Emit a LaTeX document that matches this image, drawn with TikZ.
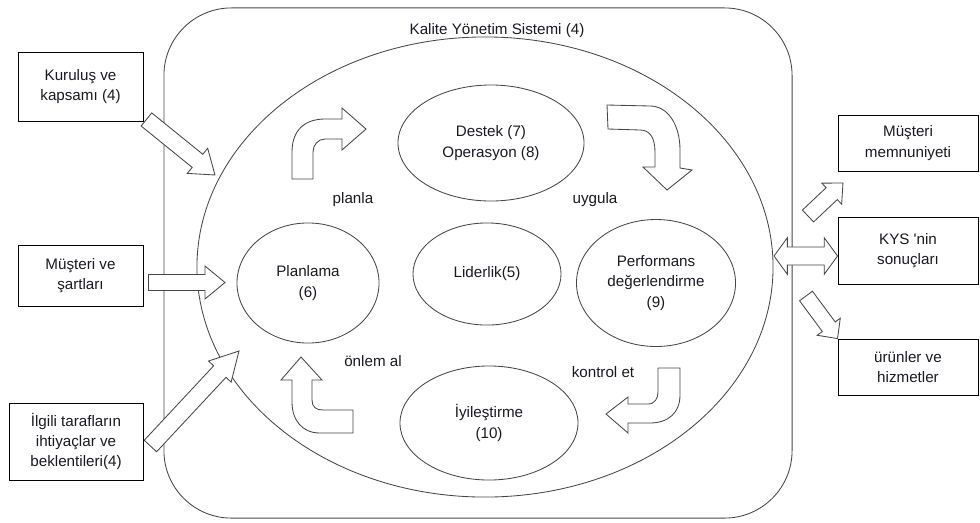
\documentclass[tikz,border=0pt]{standalone}
\usepackage{fontspec}
\setmainfont{Liberation Sans}
\usepackage{tikz}
\usetikzlibrary{calc,positioning,shapes.geometric}
\definecolor{mLine}{RGB}{70,70,70}
\definecolor{mText}{RGB}{25,25,35}

\tikzset{
  oval/.style={draw=mLine, ellipse, line width=0.6pt, inner sep=0pt, align=center},
  box/.style={draw=black, line width=0.6pt, rectangle, align=center, inner sep=2pt},
  blk/.style={draw=mLine, fill=white, line width=0.6pt, line join=miter},
  lbl/.style={text=mText, inner sep=1pt},
}

% block arrow: shaft half width, head half width, head length, tail, tip
\newcommand{\blkarrow}[5]{%
  \path let \p1=(#4), \p2=(#5) in \pgfextra{%
    \pgfmathsetmacro\blkang{atan2(\y2-\y1,\x2-\x1)}%
    \pgfmathsetmacro\blklen{veclen(\x2-\x1,\y2-\y1)}%
    \xdef\blkang{\blkang}\xdef\blklen{\blklen}};
  \draw[blk, shift={(#4)}, rotate=\blkang]
    (0pt,#1) -- (\blklen pt-#3,#1) -- (\blklen pt-#3,#2) -- (\blklen pt,0pt)
    -- (\blklen pt-#3,-#2) -- (\blklen pt-#3,-#1) -- (0pt,-#1) -- cycle;
}
\newcommand{\blkdarrow}[5]{%
  \path let \p1=(#4), \p2=(#5) in \pgfextra{%
    \pgfmathsetmacro\blkang{atan2(\y2-\y1,\x2-\x1)}%
    \pgfmathsetmacro\blklen{veclen(\x2-\x1,\y2-\y1)}%
    \xdef\blkang{\blkang}\xdef\blklen{\blklen}};
  \draw[blk, shift={(#4)}, rotate=\blkang]
    (0pt,0pt) -- (#3,#2) -- (#3,#1) -- (\blklen pt-#3,#1) -- (\blklen pt-#3,#2) -- (\blklen pt,0pt)
    -- (\blklen pt-#3,-#2) -- (\blklen pt-#3,-#1) -- (#3,-#1) -- (#3,-#2) -- cycle;
}

\begin{document}
\begin{tikzpicture}[x=0.025cm, y=-0.025cm, font=\fontsize{10.8}{14.5}\selectfont, text=mText]
  \useasboundingbox (0,0) rectangle (980,522);

  \node[draw=mLine, line width=0.6pt, rounded corners=48pt, minimum width=446.7pt, minimum height=362.8pt] (qms) at (478,263) {};
  \node[lbl] (title) at (497,31) {Kalite Yönetim Sistemi (4)};
  \node[oval, minimum width=409.7pt, minimum height=327.2pt] (pdca) at (485,267) {};

  \node[oval, minimum width=132.3pt, minimum height=82.5pt] (dest) at (491,143) {Destek (7)\\Operasyon (8)};
  \node[oval, minimum width=101pt, minimum height=85.4pt] (plan) at (308,283) {Planlama\\(6)};
  \node[oval, minimum width=105.3pt, minimum height=72.6pt] (lid) at (487,274) {Liderlik(5)};
  \node[oval, minimum width=113.1pt, minimum height=90.3pt] (perf) at (656,283) {Performans\\değerlendirme\\(9)};
  \node[oval, minimum width=126.6pt, minimum height=81.1pt] (iyi) at (489,423) {İyileştirme\\(10)};

  \node[lbl] (planla) at (353,200) {planla};
  \node[lbl] (uygula) at (595,200) {uygula};
  \node[lbl] (onlem) at (373,361) {önlem al};
  \node[lbl] (kontrol) at (603,372) {kontrol et};

  \node[box, minimum width=88.9pt, minimum height=49.1pt] (kur) at (80.5,86.5) {Kuruluş ve\\kapsamı (4)};
  \node[box, minimum width=88.9pt, minimum height=43.4pt] (mus) at (80.5,275.5) {Müşteri ve\\şartları};
  \node[box, minimum width=95.3pt, minimum height=54.8pt] (ilg) at (76,441.5) {İlgili tarafların\\ihtiyaçlar ve\\beklentileri(4)};
  \node[box, minimum width=99.6pt, minimum height=39.8pt] (mem) at (908,143) {Müşteri\\memnuniyeti};
  \node[box, minimum width=99.6pt, minimum height=47.7pt] (kys) at (908,250.5) {KYS \textquotesingle nin\\sonuçları};
  \node[box, minimum width=99.6pt, minimum height=39.8pt] (urun) at (908,367) {ürünler ve\\hizmetler};

  \coordinate (kurTip) at (215,175);
  \coordinate (musTip) at (225,282.5);
  \coordinate (ilgTip) at (239,351);
  \coordinate (kysTail) at (774,256);
  \coordinate (memTail) at (808,216);
  \coordinate (memTip) at (843,183);
  \coordinate (urunTail) at (806,296);

  \blkarrow{6pt}{11.5pt}{16pt}{$(kur.south east)+(3,-2)$}{kurTip}
  \blkarrow{5.7pt}{11.7pt}{14.2pt}{$(mus.east)+(5,7)$}{musTip}
  \blkarrow{6pt}{11pt}{20pt}{$(ilg.east)+(7,4.5)$}{ilgTip}
  \blkdarrow{6.4pt}{13pt}{9.5pt}{kysTail}{$(kys.west)+(0,5.5)$}
  \blkarrow{5.8pt}{10.3pt}{11pt}{memTail}{memTip}
  \blkarrow{5.7pt}{10.2pt}{10.5pt}{urunTail}{urun.north west}

  \draw[blk] (292,179) -- (292,152) .. controls (292,130) and (305,119) .. (325,119) -- (342,119)
    -- (342,108) -- (366,129) -- (342,150) -- (342,139) -- (325,139)
    .. controls (318,139) and (313,145) .. (313,152) -- (313,179) -- cycle;
  \draw[blk] (607,105) -- (650,106) .. controls (668,106) and (680,125) .. (680,150) -- (680,168)
    -- (692,170) -- (667,190) -- (643,167) -- (655,167) -- (655,152)
    .. controls (655,138) and (650,130) .. (640,130) -- (608,129) -- cycle;
  \draw[blk] (658,368) -- (680,368) -- (680,395) .. controls (680,413) and (668,423) .. (650,423)
    -- (628,423) -- (628,433) -- (606,414) -- (628,397) -- (628,404) -- (648,404)
    .. controls (655,404) and (658,398) .. (658,392) -- cycle;
  \draw[blk] (301,357) -- (322,380) -- (312,380) -- (312,400) .. controls (312,407) and (316,410) .. (323,410)
    -- (353,410) -- (353,433) -- (320,433) .. controls (302,433) and (292,420) .. (292,402)
    -- (292,380) -- (281,380) -- cycle;
\end{tikzpicture}
\end{document}
